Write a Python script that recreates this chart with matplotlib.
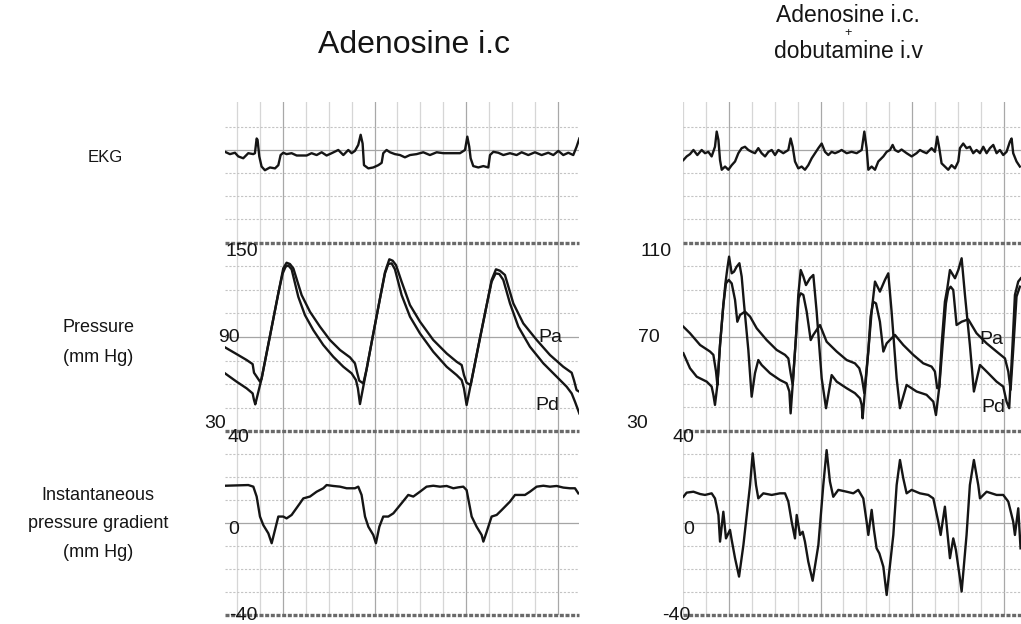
import numpy as np
import matplotlib
matplotlib.use('Agg')
import matplotlib.pyplot as plt

plt.rcParams['font.family'] = ['Liberation Sans', 'DejaVu Sans']

# ---- data: (time s, value) ----
ekg_left = [(0.044,-0.04),(0.087,-0.09),(0.131,-0.06),(0.160,-0.14),(0.203,-0.18),(0.247,-0.07),(0.291,-0.09),(0.305,-0.07),(0.320,0.25),(0.328,0.22),
            (0.343,-0.14),(0.363,-0.36),(0.392,-0.44),(0.436,-0.38),(0.480,-0.40),(0.509,-0.33),(0.529,-0.11),(0.552,-0.06),(0.581,-0.09),(0.625,-0.07),
            (0.669,-0.12),(0.756,-0.12),(0.799,-0.07),(0.843,-0.11),(0.887,-0.05),(0.930,-0.12),(0.974,-0.07),(1.032,0.0),(1.076,-0.11),(1.119,0.0),
            (1.148,-0.07),(1.177,-0.02),(1.206,0.11),(1.227,0.33),(1.244,0.14),(1.256,-0.33),(1.294,-0.40),(1.337,-0.38),(1.381,-0.33),(1.410,-0.28),
            (1.424,-0.07),(1.453,0.0),(1.483,-0.05),(1.526,-0.09),(1.570,-0.11),(1.613,-0.16),(1.657,-0.11),(1.715,-0.09),(1.773,-0.05),(1.831,-0.11),
            (1.890,-0.05),(1.948,-0.07),(2.006,-0.07),(2.093,-0.07),(2.137,0.0),(2.157,0.29),(2.174,0.07),(2.186,-0.18),(2.209,-0.35),(2.253,-0.38),
            (2.297,-0.35),(2.340,-0.38),(2.355,-0.11),(2.384,-0.04),(2.427,-0.06),(2.471,-0.11),(2.529,-0.07),(2.587,-0.11),(2.631,-0.05),(2.689,-0.11),
            (2.747,-0.05),(2.805,-0.11),(2.863,-0.06),(2.907,-0.11),(2.951,-0.02),(2.994,-0.11),(3.038,-0.06),(3.081,-0.11),(3.110,0.07),(3.134,0.25)]

pa_left = [(0.044,83.4),(0.145,79.1),(0.233,75.3),(0.285,72.7),(0.297,67.2),(0.320,64.7),(0.349,61.5),(0.363,63.4),(0.436,90.6),(0.509,117.9),
           (0.552,133.8),(0.581,137.4),(0.610,136.6),(0.640,133.8),(0.712,116.8),(0.785,106.1),(0.872,96.6),(0.959,88.1),(1.047,81.7),(1.134,77.0),
           (1.177,73.2),(1.198,66.8),(1.215,62.1),(1.250,60.4),(1.279,69.5),(1.337,92.1),(1.395,114.4),(1.439,131.3),(1.477,139.6),(1.506,138.7),
           (1.535,135.9),(1.584,125.3),(1.657,110.4),(1.744,99.8),(1.860,88.1),(1.977,79.5),(2.064,74.2),(2.108,72.1),(2.128,65.7),(2.151,60.8),
           (2.186,59.3),(2.209,67.8),(2.267,89.1),(2.326,110.4),(2.369,126.4),(2.407,133.2),(2.442,132.3),(2.485,129.6),(2.558,111.5),(2.645,98.7),
           (2.762,88.1),(2.878,78.5),(2.994,71.0),(3.067,67.2),(3.087,62.5),(3.110,56.1),(3.134,55.1)]

pd_left = [(0.044,66.8),(0.145,61.5),(0.233,57.2),(0.285,54.0),(0.297,49.8),(0.308,47.0),(0.363,63.4),(0.436,90.6),(0.509,117.9),(0.547,130.6),
           (0.573,134.9),(0.596,135.7),(0.625,133.2),(0.683,115.7),(0.741,104.0),(0.814,94.4),(0.901,84.9),(0.988,77.4),(1.076,71.0),(1.148,66.8),
           (1.186,62.5),(1.203,57.2),(1.221,47.2),(1.279,69.5),(1.337,92.1),(1.395,114.4),(1.439,130.6),(1.468,136.6),(1.497,137.0),(1.526,133.2),
           (1.584,116.8),(1.657,103.0),(1.744,92.3),(1.860,80.6),(1.977,71.0),(2.064,65.7),(2.108,62.5),(2.128,57.2),(2.151,46.6),(2.209,67.8),
           (2.267,89.1),(2.326,110.4),(2.369,125.3),(2.404,130.6),(2.436,130.2),(2.471,126.4),(2.529,111.5),(2.602,96.6),(2.703,83.8),(2.820,73.2),
           (2.936,64.7),(3.023,58.3),(3.067,54.0),(3.096,48.7),(3.134,41.2)]

grad_left = [(0.044,16.2),(0.247,16.5),(0.291,15.8),(0.320,11.5),(0.349,2.8),(0.378,-0.9),(0.422,-4.5),(0.451,-8.8),(0.480,-3.0),(0.509,2.8),
             (0.552,2.8),(0.581,2.0),(0.625,3.5),(0.698,8.6),(0.727,10.7),(0.785,11.5),(0.843,13.6),(0.901,15.1),(0.930,16.5),(0.988,16.1),
             (1.047,15.8),(1.105,15.1),(1.177,15.1),(1.206,15.8),(1.235,12.2),(1.265,2.8),(1.294,-1.6),(1.337,-5.2),(1.360,-8.8),(1.390,-1.6),
             (1.424,2.8),(1.468,2.8),(1.512,4.2),(1.584,8.6),(1.642,12.2),(1.686,11.5),(1.744,13.6),(1.802,15.8),(1.860,16.2),(1.919,15.8),
             (1.977,16.1),(2.035,15.1),(2.078,15.5),(2.122,15.8),(2.151,14.3),(2.195,2.8),(2.238,-1.6),(2.282,-5.2),(2.297,-8.1),(2.326,-3.8),
             (2.369,2.8),(2.413,3.5),(2.456,5.6),(2.529,9.3),(2.573,12.2),(2.616,12.2),(2.660,12.2),(2.703,13.6),(2.762,15.8),(2.820,16.2),
             (2.878,15.8),(2.936,16.1),(2.994,15.4),(3.052,15.1),(3.096,15.1),(3.125,12.9)]

ekg_right = [(0.552,-0.22),(0.581,-0.14),(0.610,-0.09),(0.640,0.0),(0.674,-0.11),(0.712,0.0),(0.741,-0.07),(0.770,-0.04),(0.799,-0.14),(0.828,0.07),
             (0.843,0.40),(0.858,0.22),(0.872,-0.22),(0.887,-0.43),(0.916,-0.36),(0.945,-0.43),(0.974,-0.33),(1.003,-0.25),(1.032,-0.07),(1.061,0.04),
             (1.090,0.07),(1.119,0.0),(1.148,-0.04),(1.177,-0.07),(1.206,0.04),(1.235,-0.07),(1.265,-0.14),(1.294,-0.04),(1.323,0.0),(1.352,-0.11),
             (1.381,0.0),(1.424,-0.07),(1.468,0.0),(1.488,0.25),(1.506,0.07),(1.526,-0.25),(1.555,-0.40),(1.584,-0.36),(1.613,-0.43),(1.642,-0.33),
             (1.672,-0.18),(1.701,-0.07),(1.730,0.04),(1.759,0.14),(1.788,-0.04),(1.817,-0.11),(1.846,-0.04),(1.875,-0.07),(1.904,-0.04),(1.933,0.0),
             (1.977,-0.07),(2.020,-0.04),(2.064,-0.07),(2.108,0.0),(2.131,0.40),(2.151,0.04),(2.166,-0.43),(2.195,-0.36),(2.224,-0.43),(2.253,-0.25),
             (2.297,-0.14),(2.326,-0.04),(2.355,0.0),(2.378,0.11),(2.398,0.0),(2.427,-0.04),(2.456,0.01),(2.500,-0.07),(2.544,-0.14),(2.587,-0.07),
             (2.616,0.0),(2.645,-0.04),(2.674,-0.07),(2.718,0.04),(2.747,-0.04),(2.767,0.29),(2.785,0.04),(2.805,-0.29),(2.834,-0.36),(2.863,-0.43),
             (2.892,-0.33),(2.922,-0.40),(2.951,-0.25),(2.965,0.04),(2.994,0.14),(3.023,0.04),(3.052,0.07),(3.081,-0.07),(3.110,0.0),(3.140,-0.07),
             (3.169,0.07),(3.198,-0.07),(3.227,0.04),(3.256,0.11),(3.285,-0.07),(3.314,0.0),(3.343,-0.11),(3.372,-0.04),(3.401,0.18),(3.416,0.25),
             (3.430,-0.07),(3.459,-0.25),(3.488,-0.36)]

pa_right = [(0.552,74.4),(0.610,71.6),(0.698,66.6),(0.785,63.8),(0.814,62.4),(0.837,55.3),(0.849,49.6),(0.872,66.6),(0.901,83.6),(0.924,92.8),
            (0.948,94.3),(0.974,92.8),(1.003,85.8),(1.023,76.5),(1.047,79.4),(1.090,80.8),(1.134,78.7),(1.192,73.7),(1.279,68.7),(1.366,64.5),
            (1.439,62.4),(1.468,60.9),(1.488,54.6),(1.506,49.7),(1.535,70.2),(1.558,86.5),(1.576,88.6),(1.599,87.9),(1.628,80.8),(1.663,68.7),
            (1.686,70.9),(1.744,75.1),(1.802,68.0),(1.890,63.8),(1.977,60.2),(2.049,58.8),(2.087,56.7),(2.108,53.1),(2.131,46.1),(2.166,64.1),
            (2.186,78.7),(2.209,85.0),(2.233,84.3),(2.267,76.5),(2.297,63.8),(2.326,67.3),(2.398,70.9),(2.471,66.6),(2.558,62.4),(2.645,58.8),
            (2.718,57.4),(2.747,55.3),(2.767,48.2),(2.785,48.7),(2.820,70.2),(2.843,84.3),(2.863,90.0),(2.884,91.4),(2.907,90.0),(2.936,75.1),
            (2.980,76.5),(3.038,77.5),(3.110,71.6),(3.198,67.3),(3.285,63.8),(3.358,60.9),(3.387,55.3),(3.407,47.5),(3.430,64.5),(3.459,87.2),
            (3.488,91.4)]

pd_right = [(0.552,63.1),(0.610,56.7),(0.669,53.1),(0.756,51.0),(0.799,48.9),(0.814,45.4),(0.828,41.1),(0.849,49.6),(0.872,66.6),(0.901,83.6),
            (0.919,92.8),(0.936,99.2),(0.951,104.2),(0.974,97.1),(0.994,97.8),(1.017,99.9),(1.041,101.4),(1.061,95.7),(1.081,84.3),(1.119,64.5),
            (1.148,44.6),(1.177,54.6),(1.206,60.2),(1.235,58.1),(1.308,54.6),(1.395,51.7),(1.453,50.3),(1.477,46.8),(1.488,37.5),(1.506,49.7),
            (1.535,70.2),(1.555,87.9),(1.576,98.5),(1.599,95.7),(1.622,92.1),(1.657,95.0),(1.686,96.4),(1.715,80.8),(1.759,52.4),(1.797,39.7),
            (1.846,53.8),(1.890,51.0),(1.977,48.2),(2.049,46.1),(2.093,43.9),(2.108,41.1),(2.116,35.4),(2.166,64.1),(2.195,80.9),(2.224,93.6),
            (2.267,89.3),(2.311,94.3),(2.340,97.1),(2.369,80.8),(2.413,52.4),(2.442,39.7),(2.500,49.6),(2.587,46.8),(2.674,45.4),(2.733,42.5),
            (2.756,36.8),(2.785,48.7),(2.805,66.6),(2.834,85.0),(2.855,90.7),(2.878,98.5),(2.922,95.0),(2.951,98.5),(2.980,103.5),(3.009,87.9),
            (3.052,66.6),(3.087,46.8),(3.140,58.1),(3.198,55.3),(3.285,51.0),(3.343,48.9),(3.372,42.5),(3.395,39.7),(3.424,66.6),(3.445,87.9),
            (3.474,93.6),(3.497,95.0)]

grad_right = [(0.552,11.4),(0.581,13.2),(0.640,13.6),(0.698,12.6),(0.741,12.2),(0.799,12.9),(0.828,10.7),(0.858,3.5),(0.872,-8.1),(0.901,4.9),
              (0.924,-6.7),(0.959,-3.0),(0.974,-7.4),(1.003,-15.3),(1.038,-23.3),(1.076,-9.6),(1.134,16.5),(1.157,30.3),(1.186,16.5),(1.206,10.7),
              (1.250,12.9),(1.323,12.2),(1.395,12.9),(1.439,12.9),(1.468,9.3),(1.497,0.6),(1.526,-6.7),(1.541,3.5),(1.570,-5.2),(1.593,-3.8),
              (1.613,-8.1),(1.642,-16.8),(1.680,-25.1),(1.730,-9.6),(1.773,16.5),(1.802,31.7),(1.831,18.0),(1.860,11.4),(1.904,14.4),(1.977,13.6),
              (2.035,12.9),(2.078,14.4),(2.122,10.7),(2.151,0.6),(2.166,-5.2),(2.195,5.7),(2.215,-3.0),(2.238,-11.0),(2.262,-13.2),(2.297,-19.0),
              (2.326,-31.3),(2.384,-5.2),(2.413,16.5),(2.442,27.4),(2.471,19.4),(2.500,12.9),(2.544,14.4),(2.616,12.9),(2.689,12.2),(2.733,10.7),
              (2.776,0.6),(2.797,-5.2),(2.834,7.1),(2.855,-3.8),(2.878,-15.3),(2.907,-6.7),(2.930,-11.7),(2.965,-24.0),(2.980,-29.8),(3.023,-5.2),
              (3.052,16.5),(3.087,27.4),(3.125,16.5),(3.140,10.7),(3.198,13.6),(3.285,12.2),(3.343,12.2),(3.387,9.3),(3.430,0.6),(3.445,-5.2),
              (3.474,6.4),(3.494,-11.0)]

pressure_ticks_left = ['150', '90', '30']
pressure_ticks_right = ['110', '70', '30']
gradient_ticks = ['40', '0', '-40']

# ---- layout (pixels of the 1021x624 canvas) ----
W, H = 1021, 624
fig = plt.figure(figsize=(W / 100, H / 100), dpi=100)
INK = '#151515'


def box(x0, y0, x1, y1):
    ax = fig.add_axes([x0 / W, 1 - y1 / H, (x1 - x0) / W, (y1 - y0) / H])
    ax.axis('off')
    return ax


def paper(ax, vgrid, hgrid, hdark):
    for k, t in enumerate(vgrid):
        ax.axvline(t, color='#a8a8a8' if k % 4 == 2 else '#d6d6d6', lw=0.9, zorder=0)
    for y in hgrid:
        ax.axhline(y, color='#c4c4c4', lw=0.8, ls=(0, (2, 1.5)), zorder=0)
    for y in hdark:
        ax.axhline(y, color='#a5a5a5', lw=0.9, zorder=0)


def heavy(ax, y):
    ax.axhline(y, color='#6a6a6a', lw=2.4, ls=(0, (1.2, 0.5)), clip_on=False, zorder=1)


def trace(ax, pts):
    arr = np.array(pts)
    ax.plot(arr[:, 0], arr[:, 1], color=INK, lw=1.7, solid_joinstyle='round', zorder=3)


columns = [
    dict(x0=225, x1=579, xlim=(0.044, 3.131), vg=0.148 + 0.2 * np.arange(15),
         ekg=ekg_left, pa=pa_left, pd=pd_left, grad=grad_left,
         plim=(30, 150), pgrid=[135, 120, 105, 75, 60, 45], pdark=[90]),
    dict(x0=683, x1=1021, xlim=(0.549, 3.498), vg=0.549 + 0.2 * np.arange(15),
         ekg=ekg_right, pa=pa_right, pd=pd_right, grad=grad_right,
         plim=(30, 110), pgrid=[100, 90, 80, 60, 50, 40], pdark=[70]),
]

for c in columns:
    a_ekg = box(c['x0'], 102, c['x1'], 243)
    a_p = box(c['x0'], 243, c['x1'], 431)
    a_g = box(c['x0'], 431, c['x1'], 615)
    for ax in (a_ekg, a_p, a_g):
        ax.set_xlim(*c['xlim'])
    a_ekg.set_ylim(-2.022, 1.043)
    a_p.set_ylim(*c['plim'])
    a_g.set_ylim(-40, 40)

    paper(a_ekg, c['vg'], [0.5, -0.5, -1.0, -1.5], [0.0])
    paper(a_p, c['vg'], c['pgrid'], c['pdark'])
    paper(a_g, c['vg'], [30, 20, 10, -10, -20, -30], [0])
    heavy(a_p, c['plim'][1])
    heavy(a_g, 40)
    heavy(a_g, -40)

    trace(a_ekg, c['ekg'])
    trace(a_p, c['pa'])
    trace(a_p, c['pd'])
    trace(a_g, c['grad'])


def label(x, y, s, size=13, ha='center', va='center', **kw):
    fig.text(x / W, 1 - y / H, s, fontsize=size, ha=ha, va=va, color=INK, **kw)


# titles
label(414, 45, 'Adenosine i.c', size=23)
label(848, 15, 'Adenosine i.c.', size=16.5)
label(848, 33, '+', size=9)
label(848, 51, 'dobutamine i.v', size=16.5)

# row labels
label(105, 158, 'EKG', size=12)
label(98, 342, 'Pressure\n(mm Hg)', size=13, linespacing=2.0)
label(98, 524, 'Instantaneous\npressure gradient\n(mm Hg)', size=13, linespacing=1.85)

# scale numbers
for (x, y), s in zip([(258, 252), (240, 337), (226, 424)], pressure_ticks_left):
    label(x, y, s, size=14, ha='right')
for (x, y), s in zip([(672, 252), (660, 337), (648, 423)], pressure_ticks_right):
    label(x, y, s, size=14, ha='right')
for (x, y), s in zip([(249, 437), (239, 530), (258, 615)], gradient_ticks):
    label(x, y, s, size=14, ha='right')
for (x, y), s in zip([(694, 437), (694, 530), (690, 615)], gradient_ticks):
    label(x, y, s, size=14, ha='right')

# curve names
label(550, 337, 'Pa', size=14)
label(547, 405, 'Pd', size=14)
label(991, 339, 'Pa', size=14)
label(993, 408, 'Pd', size=14)

fig.savefig('out.png', dpi=100, facecolor='white')
